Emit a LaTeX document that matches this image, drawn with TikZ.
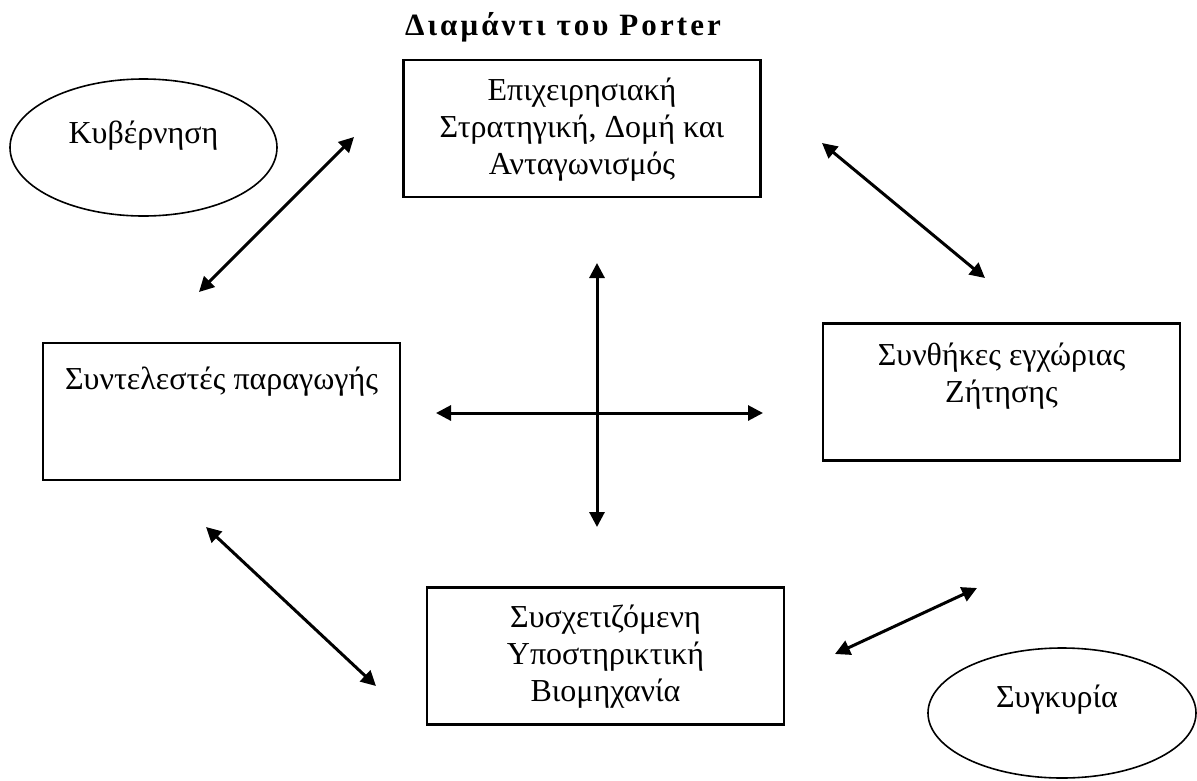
\documentclass[tikz,border=0pt]{standalone}
\usepackage{fontspec}
\setmainfont{Liberation Serif}
\usetikzlibrary{arrows.meta,positioning,shapes.geometric}

\begin{document}
\begin{tikzpicture}[
  x=1pt, y=-1pt,
  font=\fontsize{32pt}{37pt}\selectfont,
  factor/.style={draw, line width=2.2pt, minimum width=357pt, minimum height=137pt, inner sep=0pt},
  outside/.style={ellipse, draw, line width=1.6pt, inner sep=0pt},
  caption/.style={align=center, inner sep=0pt},
  link/.style={{Triangle[length=15pt,width=15pt]}-{Triangle[length=15pt,width=15pt]}, line width=3pt}
]
\useasboundingbox (0,0) rectangle (1197,780);
\node[caption, anchor=base, font=\fontsize{31pt}{34pt}\selectfont\bfseries\addfontfeature{LetterSpace=10}] (title) at (563,35) {Διαμάντι του Porter};

% the four boxes of the diamond
\node[factor] (strat) at (582,128.5) {};
\node[caption, below=19pt of strat.north] (strat-txt) {Επιχειρησιακή\\Στρατηγική, Δομή και\\Ανταγωνισμός};
\node[factor] (prod) at (221.5,411.5) {};
\node[caption, below=25pt of prod.north] (prod-txt) {Συντελεστές παραγωγής};
\node[factor] (demand) at (1001.5,392) {};
\node[caption, below=20pt of demand.north] (demand-txt) {Συνθήκες εγχώριας\\Ζήτησης};
\node[factor] (rel) at (605.5,656) {};
\node[caption, below=18pt of rel.north] (rel-txt) {Συσχετιζόμενη\\Υποστηρικτική\\Βιομηχανία};

% government and chance
\node[outside, minimum width=267pt, minimum height=137pt] (gov) at (143.5,147.5) {};
\node[caption, anchor=base] (gov-txt) at ([yshift=4.5pt]gov.center) {Κυβέρνηση};
\node[outside, minimum width=268pt, minimum height=130pt] (chance) at (1062,713) {};
\node[caption, anchor=base] (chance-txt) at ([xshift=-5pt,yshift=6pt]chance.center) {Συγκυρία};

% arrow ends
\coordinate (prod-ne) at (199,292);
\coordinate (strat-w) at (354,137);
\coordinate (strat-e) at (822,143);
\coordinate (demand-nw) at (985,278);
\coordinate (prod-se) at (206,527);
\coordinate (rel-w) at (376,686);
\coordinate (demand-sw) at (977,588);
\coordinate (rel-e) at (835,654);
\coordinate (cross-n) at (597,263);
\coordinate (cross-s) at (597,527);
\coordinate (cross-w) at (436,413);
\coordinate (cross-e) at (763,413);

\draw[link] (prod-ne) -- (strat-w);
\draw[link] (strat-e) -- (demand-nw);
\draw[link] (prod-se) -- (rel-w);
\draw[link] (demand-sw) -- (rel-e);
\draw[link] (cross-n) -- (cross-s);
\draw[link] (cross-w) -- (cross-e);
\end{tikzpicture}
\end{document}
